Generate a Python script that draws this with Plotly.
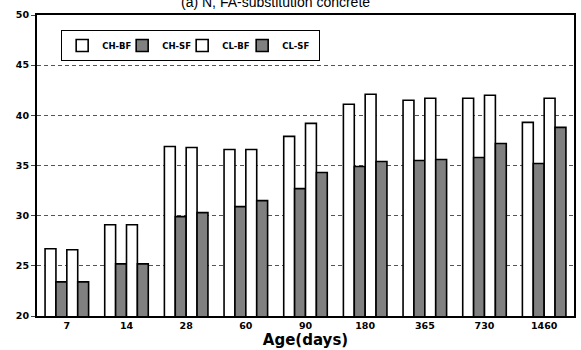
import plotly.graph_objects as go

ages = ["7", "14", "28", "60", "90", "180", "365", "730", "1460"]
series_names = ["CH-BF", "CH-SF", "CL-BF", "CL-SF"]
ch_bf = [26.7, 29.1, 36.9, 36.6, 37.9, 41.1, 41.5, 41.7, 39.3]
ch_sf = [23.4, 25.2, 29.9, 30.9, 32.7, 34.9, 35.5, 35.8, 35.2]
cl_bf = [26.6, 29.1, 36.8, 36.6, 39.2, 42.1, 41.7, 42.0, 41.7]
cl_sf = [23.4, 25.2, 30.3, 31.5, 34.3, 35.4, 35.6, 37.2, 38.8]
series_values = [ch_bf, ch_sf, cl_bf, cl_sf]
fill_colors = ["white", "#808080", "white", "#808080"]

y_ticks = [20, 25, 30, 35, 40, 45, 50]
y_ticklabels = ["20", "25", "30", "35", "40", "45", "50"]

fig = go.Figure()
for i, (name, vals, col) in enumerate(zip(series_names, series_values, fill_colors)):
    fig.add_trace(go.Bar(
        x=ages, y=vals, name=name,
        marker=dict(color=col, line=dict(color="black", width=1.6)),
        legendwidth=(32 if i == len(series_names) - 1 else None),
    ))

tick_font = dict(family="DejaVu Sans", size=9.5, color="black", weight="bold")

fig.update_layout(
    width=581, height=350,
    margin=dict(l=37, r=5, t=15, b=34),
    paper_bgcolor="white", plot_bgcolor="white",
    barmode="group", bargap=0.27, bargroupgap=0,
    showlegend=True,
    legend=dict(
        orientation="h",
        x=0.045, y=0.95, xanchor="left", yanchor="top",
        bgcolor="white", bordercolor="black", borderwidth=1,
        font=dict(family="DejaVu Sans", size=8.5, color="black", weight="bold"),
        entrywidth=15, entrywidthmode="pixels",
        traceorder="normal",
    ),
    xaxis=dict(
        type="category",
        showline=True, linecolor="black", linewidth=2, mirror=True,
        ticks="", tickfont=tick_font,
        title=dict(text="<b>Age(days)</b>",
                   font=dict(family="DejaVu Sans", size=15, color="black"),
                   standoff=0),
    ),
    yaxis=dict(
        range=[20, 50], tickvals=y_ticks, ticktext=y_ticklabels,
        showline=True, linecolor="black", linewidth=2, mirror=True,
        ticks="outside", ticklen=4, tickcolor="#444",
        tickfont=tick_font,
        showgrid=True, gridcolor="#555", gridwidth=1, griddash="4px,3px",
        zeroline=False,
    ),
    annotations=[dict(
        text="(a) N, FA-substitution concrete",
        xref="paper", yref="paper", x=0.445, y=1, yshift=3,
        xanchor="center", yanchor="bottom", showarrow=False,
        font=dict(family="Liberation Sans", size=14, color="black"),
    )],
)

fig.write_html("out.html")
